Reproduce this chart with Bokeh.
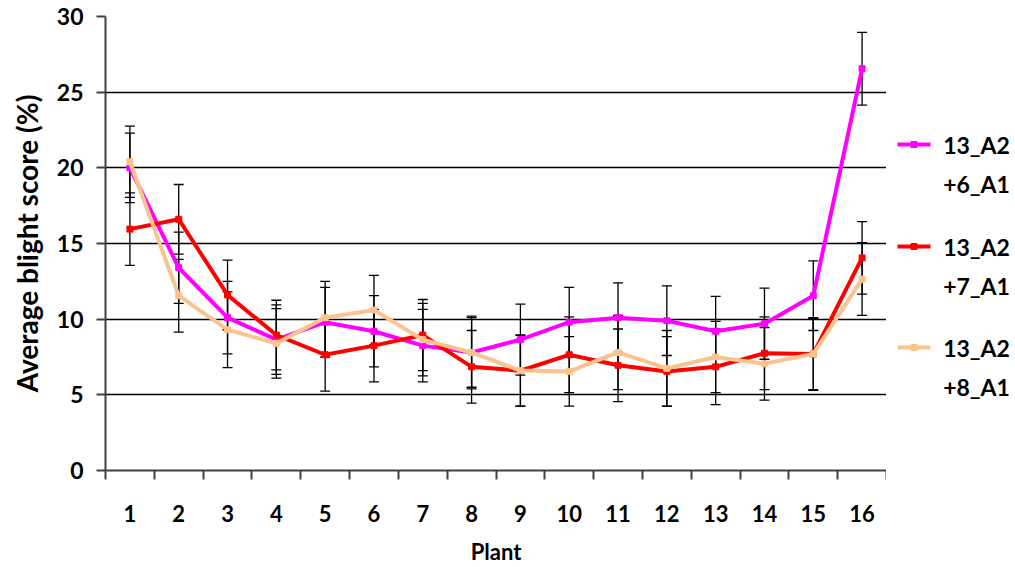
from bokeh.plotting import figure
from bokeh.models import Range1d, FixedTicker, Whisker, ColumnDataSource, TeeHead
from bokeh.layouts import row
from bokeh.embed import file_html
from bokeh.resources import INLINE
from bokeh.core.properties import value

# ---------------- data ----------------
plants = list(range(1, 17))
y_ticks = [0, 5, 10, 15, 20, 25, 30]

series_top = ["13_A2", "13_A2", "13_A2"]
series_bottom = ["+6_A1", "+7_A1", "+8_A1"]
colors = ["#FF00FF", "#FF0000", "#FBC48F"]

s6 = [20.0, 13.4, 10.1, 8.65, 9.8, 9.2, 8.25, 7.8, 8.65, 9.8, 10.1, 9.9, 9.2, 9.7, 11.55, 26.55]
s7 = [15.95, 16.6, 11.6, 8.95, 7.65, 8.25, 8.95, 6.85, 6.6, 7.65, 6.95, 6.55, 6.85, 7.75, 7.7, 14.05]
s8 = [20.4, 11.55, 9.3, 8.4, 10.1, 10.6, 8.65, 7.8, 6.6, 6.55, 7.8, 6.75, 7.5, 7.05, 7.7, 12.65]

e6 = [2.3, 2.35, 2.4, 2.3, 2.3, 2.35, 2.4, 2.3, 2.35, 2.3, 2.3, 2.3, 2.3, 2.35, 2.3, 2.4]
e7 = [2.4, 2.3, 2.3, 2.3, 2.4, 2.4, 2.35, 2.4, 2.35, 2.5, 2.4, 2.3, 2.5, 2.4, 2.35, 2.4]
e8 = [2.35, 2.4, 2.5, 2.3, 2.4, 2.3, 2.4, 2.4, 2.35, 2.3, 2.45, 2.5, 2.35, 2.4, 2.4, 2.4]

values = [s6, s7, s8]
errors = [e6, e7, e8]

x_title = "Plant"
y_title = "Average blight score (%)"

FONT = value("Lato")

# ---------------- main chart ----------------
p = figure(width=886, height=567,
           x_range=Range1d(0.5, 16.5), y_range=Range1d(0, 30),
           output_backend="svg", toolbar_location=None,
           min_border_left=105, min_border_top=16, min_border_right=0, min_border_bottom=97)
p.outline_line_color = None
p.background_fill_color = "white"
p.border_fill_color = "white"

p.xgrid.grid_line_color = None
p.ygrid.grid_line_color = "black"
p.ygrid.grid_line_width = 1.5

xa = p.xaxis[0]
xa.ticker = FixedTicker(ticks=plants, minor_ticks=[i + 0.5 for i in range(0, 17)])
xa.major_tick_out = 0
xa.major_tick_in = 0
xa.minor_tick_out = 9
xa.minor_tick_in = 0
xa.minor_tick_line_color = "#404040"
xa.minor_tick_line_width = 2
xa.axis_line_color = "#404040"
xa.axis_line_width = 2
xa.major_label_text_font = "Lato"
xa.major_label_text_font_style = "bold"
xa.major_label_text_font_size = "22px"
xa.major_label_text_color = "black"
xa.major_label_standoff = 25
xa.axis_label = x_title
xa.axis_label_text_font = "Lato"
xa.axis_label_text_font_style = "bold"
xa.axis_label_text_font_size = "22px"
xa.axis_label_text_color = "black"
xa.axis_label_standoff = 13

ya = p.yaxis[0]
ya.ticker = FixedTicker(ticks=y_ticks, minor_ticks=[])
ya.major_tick_out = 9
ya.major_tick_in = 0
ya.major_tick_line_color = "#404040"
ya.major_tick_line_width = 2
ya.axis_line_color = "#404040"
ya.axis_line_width = 2
ya.major_label_text_font = "Lato"
ya.major_label_text_font_style = "bold"
ya.major_label_text_font_size = "23px"
ya.major_label_text_color = "black"
ya.major_label_standoff = 13
ya.axis_label = y_title
ya.axis_label_text_font = "Lato"
ya.axis_label_text_font_style = "bold"
ya.axis_label_text_font_size = "28px"
ya.axis_label_text_color = "black"
ya.axis_label_standoff = 10

for vals, col in zip(values, colors):
    p.line(plants, vals, line_color=col, line_width=4, line_join="miter")
    p.scatter(plants, vals, marker="square", size=6, fill_color=col, line_color=col)

for vals, errs in zip(values, errors):
    src = ColumnDataSource(dict(x=plants,
                                upper=[v + e for v, e in zip(vals, errs)],
                                lower=[v - e for v, e in zip(vals, errs)]))
    w = Whisker(base="x", upper="upper", lower="lower", source=src,
                line_color="black", line_width=1.3,
                upper_head=TeeHead(size=10, line_color="black", line_width=1.3),
                lower_head=TeeHead(size=10, line_color="black", line_width=1.3))
    p.add_layout(w)

# ---------------- legend panel (frame aligned with the chart frame) ----------------
q = figure(width=129, height=567,
           x_range=Range1d(886, 1015), y_range=Range1d(470, 16),
           output_backend="svg", toolbar_location=None,
           x_axis_location=None, y_axis_location=None,
           min_border=0, min_border_top=16, min_border_bottom=97)
q.outline_line_color = None
q.xgrid.grid_line_color = None
q.ygrid.grid_line_color = None

leg_y = [144, 246, 347]
for ly, col, t1, t2 in zip(leg_y, colors, series_top, series_bottom):
    q.segment(x0=[897], y0=[ly], x1=[930], y1=[ly], line_color=col, line_width=4)
    q.scatter([913.5], [ly], marker="square", size=6, fill_color=col, line_color=col)
    q.text([976], [ly], text=[t1], text_font=FONT, text_font_style="bold",
           text_font_size="23px", text_align="center", text_baseline="middle", text_color="black")
    q.text([976], [ly + 39], text=[t2], text_font=FONT, text_font_style="bold",
           text_font_size="23px", text_align="center", text_baseline="middle", text_color="black")

layout = row(p, q)
open("out.html", "w").write(file_html(layout, INLINE))
